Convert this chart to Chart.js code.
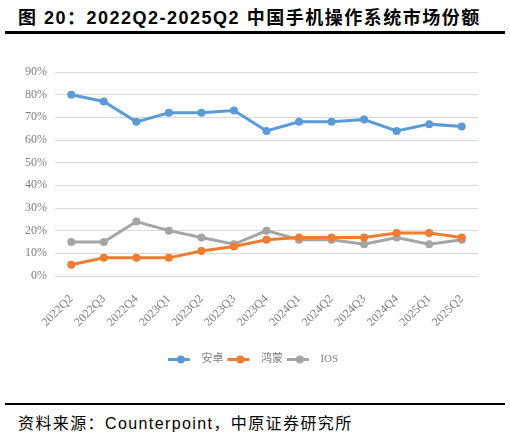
<!DOCTYPE html>
<html>
<head>
<meta charset="utf-8">
<script src="https://cdn.jsdelivr.net/npm/chart.js@4"></script>
<style>
  html, body { margin: 0; padding: 0; background: #fff; }
  body { width: 510px; height: 437px; position: relative; overflow: hidden; }
  .title {
    position: absolute; left: 18px; top: 3px;
    font: bold 18px "Liberation Sans", "Noto Sans CJK SC", sans-serif;
    letter-spacing: 1.5px; color: #000; white-space: nowrap;
  }
  .rule { position: absolute; left: 5px; width: 500px; background: #000; }
  .source {
    position: absolute; left: 18px; top: 410px;
    font: 16px "Liberation Sans", "Noto Sans CJK SC", sans-serif;
    letter-spacing: 1.4px; color: #000; white-space: nowrap;
  }
  #wrap { position: absolute; left: 0; top: 40px; width: 510px; height: 345px; }
</style>
</head>
<body>
<div class="title">图 20：2022Q2-2025Q2 中国手机操作系统市场份额</div>
<div class="rule" style="top:31px;height:3px"></div>
<div id="wrap"><canvas id="chart"></canvas></div>
<div class="rule" style="top:403px;height:2px"></div>
<div class="source">资料来源：Counterpoint，中原证券研究所</div>
<script>
const quarters = ["2022Q2", "2022Q3", "2022Q4", "2023Q1", "2023Q2", "2023Q3", "2023Q4",
  "2024Q1", "2024Q2", "2024Q3", "2024Q4", "2025Q1", "2025Q2"];
const android = [80, 77, 68, 72, 72, 73, 64, 68, 68, 69, 64, 67, 66];
const harmony = [5, 8, 8, 8, 11, 13, 16, 17, 17, 17, 19, 19, 17];
const ios = [15, 15, 24, 20, 17, 14, 20, 16, 16, 14, 17, 14, 16];

const tickFont = { family: "'Liberation Serif', 'Noto Sans CJK SC', serif", size: 12 };
const legendFont = { family: "'Liberation Serif', 'Noto Sans CJK SC', serif", size: 11 };
const gray = "#7f7f7f";

function series(label, data, color) {
  return {
    label: label,
    data: data,
    borderColor: color,
    backgroundColor: color,
    borderWidth: 3,
    pointRadius: 4,
    pointHoverRadius: 4,
    pointBorderWidth: 0,
    tension: 0
  };
}

// legend marker: short line with a dot, like the office chart
const legendMarks = {
  id: "legendMarks",
  afterDraw(chart) {
    const legend = chart.legend;
    const ctx = chart.ctx;
    legend.legendHitBoxes.forEach((box, i) => {
      const color = chart.data.datasets[i].borderColor;
      const y = box.top + box.height / 2;
      ctx.save();
      ctx.strokeStyle = color;
      ctx.fillStyle = color;
      ctx.lineWidth = 3;
      ctx.beginPath();
      ctx.moveTo(box.left, y);
      ctx.lineTo(box.left + 22, y);
      ctx.stroke();
      ctx.beginPath();
      ctx.arc(box.left + 13, y, 4, 0, Math.PI * 2);
      ctx.fill();
      ctx.restore();
    });
  }
};

new Chart(document.getElementById("chart"), {
  type: "line",
  data: {
    labels: quarters,
    datasets: [
      series("安卓", android, "#5b9bd5"),
      series("鸿蒙", harmony, "#ed7d31"),
      series("IOS", ios, "#a5a5a5")
    ]
  },
  options: {
    responsive: true,
    maintainAspectRatio: false,
    animation: false,
    layout: { padding: { top: 32, right: 4, left: 0, bottom: 10 } },
    scales: {
      x: {
        offset: true,
        grid: { display: false },
        border: { display: false },
        ticks: {
          color: gray,
          font: tickFont,
          minRotation: 45,
          maxRotation: 45,
          padding: 8
        },
        afterFit(scale) { scale.height = 74; }
      },
      y: {
        min: 0,
        max: 90,
        grid: { color: "#d9d9d9", lineWidth: 1, drawTicks: false },
        border: { display: false },
        ticks: {
          stepSize: 10,
          color: gray,
          font: tickFont,
          padding: 8,
          callback: v => v + "%"
        },
        afterFit(scale) { scale.width = 55; }
      },
      // empty right-hand axis, only keeps the plot clear of the right margin
      spacer: {
        position: "right",
        min: 0,
        max: 90,
        grid: { display: false },
        border: { display: false },
        ticks: { display: false },
        afterFit(scale) { scale.width = 28; }
      }
    },
    plugins: {
      tooltip: { enabled: false },
      legend: {
        position: "bottom",
        labels: {
          color: gray,
          font: legendFont,
          boxWidth: 28,
          boxHeight: 8,
          padding: 4,
          generateLabels(chart) {
            return chart.data.datasets.map((ds, i) => ({
              text: ds.label,
              fillStyle: "rgba(0,0,0,0)",
              strokeStyle: "rgba(0,0,0,0)",
              lineWidth: 0,
              fontColor: gray,
              datasetIndex: i
            }));
          }
        }
      }
    }
  },
  plugins: [legendMarks]
});
</script>
</body>
</html>
